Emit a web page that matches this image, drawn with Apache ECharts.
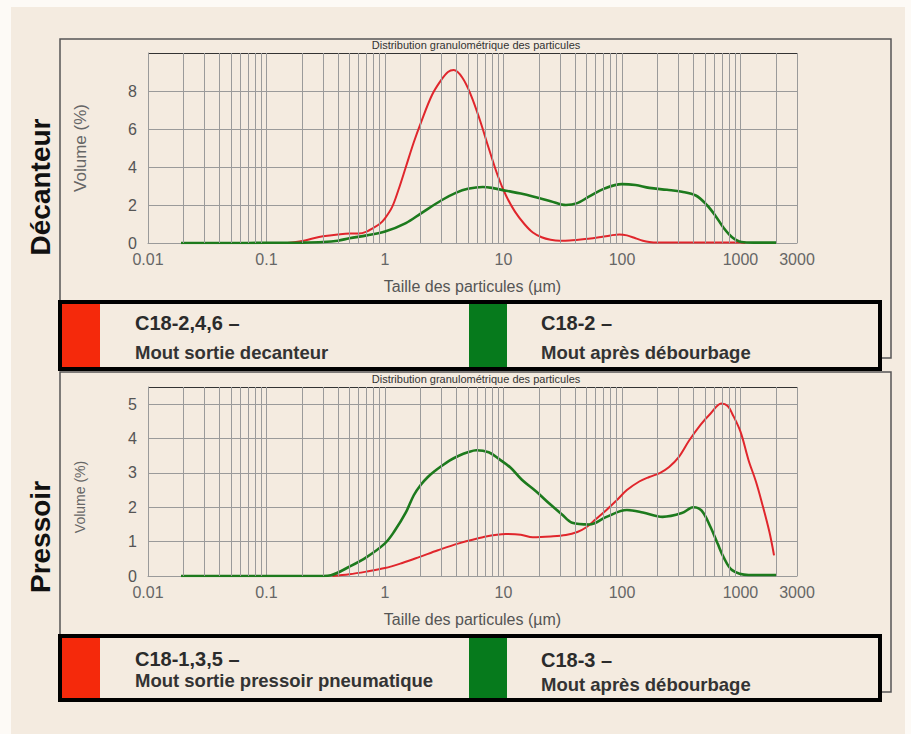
<!DOCTYPE html>
<html><head><meta charset="utf-8">
<script src="https://cdn.jsdelivr.net/npm/echarts@6/dist/echarts.min.js"></script>
<style>html,body{margin:0;padding:0;background:#fdfaf6}#c{width:911px;height:734px}</style>
</head><body><div id="c"></div>
<script>
// ---------- data ----------
const xTickLabels = ['0.01', '0.1', '1', '10', '100', '1000', '3000'];
const minorGridSizes = [0.02,0.03,0.04,0.05,0.06,0.07,0.08,0.09,
  0.2,0.3,0.4,0.5,0.6,0.7,0.8,0.9, 2,3,4,5,6,7,8,9,
  20,30,40,50,60,70,80,90, 200,300,400,500,600,700,800,900, 2000];

// Décanteur – C18-2,4,6 (red)
const decRedSize = [0.15,0.2,0.25,0.3,0.4,0.5,0.6,0.7,0.8,0.9,1.0,1.15,1.3,1.5,1.75,2,2.5,3,3.4,3.8,4.5,5.3,6.3,7.5,9,10.5,12.5,15,17.7,21,25,30,36,43,52,64,80,95,110,130,150,170,200,300,500,700,1000,1100];
const decRedVol  = [0,0.1,0.25,0.35,0.45,0.5,0.5,0.6,0.8,1.0,1.3,1.9,2.8,4.0,5.3,6.3,7.8,8.6,9.0,9.1,8.7,7.8,6.5,5.0,3.5,2.5,1.65,1.0,0.55,0.3,0.17,0.12,0.13,0.17,0.22,0.3,0.4,0.45,0.4,0.25,0.12,0.05,0.02,0.02,0.02,0.02,0.02,0];
// Décanteur – C18-2 (green)
const decGreenSize = [0.019,0.05,0.1,0.2,0.3,0.4,0.5,0.7,1,1.5,2,3,4,5,6.7,8,10.5,14,17.7,25,33.6,42,53,70,100,130,170,240,320,420,520,620,720,850,1020,1300,2000];
const decGreenVol  = [0,0,0.01,0.02,0.05,0.12,0.25,0.4,0.6,1.05,1.55,2.25,2.65,2.85,2.95,2.9,2.75,2.6,2.45,2.2,2.0,2.1,2.45,2.85,3.1,3.05,2.9,2.8,2.7,2.5,2.0,1.4,0.8,0.3,0.05,0.02,0.02];
// Pressoir – C18-1,3,5 (red)
const preRedSize = [0.36,0.5,0.7,1,1.4,1.94,2.8,4.2,6.7,10.5,14,17.7,25,33.6,42,50,60,74,90,110,140,170,210,250,300,370,460,560,690,780,850,1000,1170,1350,1520,1750,1920];
const preRedVol  = [0,0.05,0.13,0.23,0.38,0.55,0.75,0.95,1.13,1.22,1.2,1.13,1.15,1.19,1.28,1.42,1.65,1.92,2.2,2.5,2.75,2.88,3.0,3.17,3.45,3.95,4.4,4.73,5.02,4.95,4.73,4.2,3.37,2.75,2.12,1.3,0.6];
// Pressoir – C18-3 (green)
const preGreenSize = [0.019,0.1,0.3,0.35,0.5,0.7,1,1.2,1.5,1.75,2,2.3,2.6,3,3.5,4.2,5,5.9,7.5,9.2,11.5,14.3,19,24.5,31,38,53,74,110,150,220,320,400,470,560,640,720,850,1170,2000];
const preGreenVol  = [0,0,0,0.02,0.27,0.55,0.95,1.3,1.85,2.35,2.65,2.88,3.04,3.2,3.36,3.5,3.6,3.66,3.6,3.4,3.15,2.8,2.45,2.1,1.8,1.55,1.5,1.72,1.92,1.85,1.72,1.83,2.0,1.9,1.42,0.95,0.55,0.17,0.03,0.03];

const chartTitle = 'Distribution granulométrique des particules';
const xName = 'Taille des particules (µm)';
const yName = 'Volume (%)';
const legendTop = [['C18-2,4,6 –', 'Mout sortie decanteur'], ['C18-2 –', 'Mout après débourbage']];
const legendBottom = [['C18-1,3,5 –', 'Mout sortie pressoir pneumatique'], ['C18-3 –', 'Mout après débourbage']];

// ---------- style ----------
const FONT = "'Liberation Sans', Arial, sans-serif";
const RED = '#e0262c', GREEN = '#1d7a1d';
const RED_BOX = '#f5290b', GREEN_BOX = '#067a1c';
const BEIGE = '#f4ebe0';
const GRIDC = '#9a9a9a';

const zip = (a, b) => a.map((v, i) => [v, b[i]]);
const fmtX = v => { const s = String(Number(Number(v).toPrecision(3))); return xTickLabels.includes(s) ? s : ''; };

function xAxis(gi) {
  return {
    type: 'log', logBase: 10, min: 0.01, max: 3000, gridIndex: gi,
    name: xName, nameLocation: 'middle', nameGap: 35,
    nameTextStyle: { fontFamily: FONT, fontSize: 16, color: '#555' },
    axisLine: { show: true, lineStyle: { color: GRIDC, width: 1 } },
    axisTick: { show: false },
    axisLabel: { formatter: fmtX, fontFamily: FONT, fontSize: 16, color: '#666', margin: 8, showMinLabel: true, showMaxLabel: true, hideOverlap: false },
    splitLine: { show: true, lineStyle: { color: GRIDC, width: 1 } }
  };
}
function yAxis(gi, max, interval, colors, fmt) {
  return {
    type: 'value', gridIndex: gi, min: 0, max: max, interval: interval,
    axisLine: { show: true, lineStyle: { color: GRIDC, width: 1 } },
    axisTick: { show: false },
    axisLabel: { formatter: fmt, fontFamily: FONT, fontSize: 16, color: '#555', margin: 11 },
    splitLine: { show: true, lineStyle: { color: colors, width: 1 } }
  };
}
const minorLines = {
  silent: true, symbol: ['none', 'none'], animation: false,
  label: { show: false },
  lineStyle: { type: 'solid', color: GRIDC, width: 1 },
  data: minorGridSizes.map(v => ({ xAxis: v }))
};
function line(name, data, color, width, xi, withMinor) {
  const s = {
    name, type: 'line', data, xAxisIndex: xi, yAxisIndex: xi,
    smooth: 0.35, showSymbol: false, symbol: 'none', animation: false,
    lineStyle: { color, width }, itemStyle: { color }
  };
  if (withMinor) s.markLine = minorLines;
  return s;
}

function legendGraphics(y0, y1, items, l1y, l2y) {
  const g = [];
  g.push({ type: 'rect', z: 20, shape: { x: 60, y: y0, width: 820, height: y1 - y0 },
    style: { fill: BEIGE, stroke: '#000', lineWidth: 4 } });
  g.push({ type: 'rect', z: 21, shape: { x: 62, y: y0 + 2, width: 38, height: y1 - y0 - 4 }, style: { fill: RED_BOX } });
  g.push({ type: 'rect', z: 21, shape: { x: 469, y: y0 + 2, width: 38, height: y1 - y0 - 4 }, style: { fill: GREEN_BOX } });
  const xs = [135, 541];
  items.forEach((it, i) => {
    g.push({ type: 'text', z: 22, x: xs[i], y: l1y[i], style: { text: it[0], fontFamily: FONT, fontSize: 20, fontWeight: 'bold', fill: '#2b2b2b', align: 'left', verticalAlign: 'middle' } });
    g.push({ type: 'text', z: 22, x: xs[i], y: l2y[i], style: { text: it[1], fontFamily: FONT, fontSize: 18.5, fontWeight: 'bold', fill: '#333', align: 'left', verticalAlign: 'middle' } });
  });
  return g;
}

const graphics = [
  { type: 'rect', z: -20, shape: { x: 11, y: 7, width: 894, height: 727 }, style: { fill: BEIGE } },
  { type: 'rect', z: -10, shape: { x: 60, y: 39, width: 831, height: 319 }, style: { fill: 'none', stroke: '#555', lineWidth: 1.5 } },
  { type: 'rect', z: -10, shape: { x: 60, y: 372, width: 831, height: 320 }, style: { fill: 'none', stroke: '#555', lineWidth: 1.5 } },
  { type: 'text', z: 5, x: 476, y: 45, style: { text: chartTitle, fontFamily: FONT, fontSize: 11, fill: '#333', align: 'center', verticalAlign: 'middle' } },
  { type: 'text', z: 5, x: 476, y: 379, style: { text: chartTitle, fontFamily: FONT, fontSize: 11, fill: '#333', align: 'center', verticalAlign: 'middle' } },
  { type: 'text', z: 5, x: 40, y: 187, rotation: Math.PI / 2, style: { text: 'Décanteur', fontFamily: FONT, fontSize: 28, fontWeight: 'bold', fill: '#111', align: 'center', verticalAlign: 'middle' } },
  { type: 'text', z: 5, x: 40, y: 537, rotation: Math.PI / 2, style: { text: 'Pressoir', fontFamily: FONT, fontSize: 28, fontWeight: 'bold', fill: '#111', align: 'center', verticalAlign: 'middle' } },
  { type: 'text', z: 5, x: 80, y: 148, rotation: Math.PI / 2, style: { text: yName, fontFamily: FONT, fontSize: 17, fill: '#666', align: 'center', verticalAlign: 'middle' } },
  { type: 'text', z: 5, x: 80, y: 497, rotation: Math.PI / 2, style: { text: yName, fontFamily: FONT, fontSize: 14, fill: '#666', align: 'center', verticalAlign: 'middle' } }
].concat(legendGraphics(302, 369, legendTop, [323, 323], [352, 352]))
 .concat(legendGraphics(636, 700, legendBottom, [659, 660], [680, 684]));

const chart = echarts.init(document.getElementById('c'), null, { renderer: 'svg' });
chart.setOption({
  backgroundColor: '#fdfaf6',
  animation: false,
  grid: [
    { left: 148, top: 53, width: 649, height: 190, containLabel: false },
    { left: 148, top: 387, width: 649, height: 189, containLabel: false }
  ],
  xAxis: [xAxis(0), xAxis(1)],
  yAxis: [
    yAxis(0, 10, 2, [GRIDC, GRIDC, GRIDC, GRIDC, GRIDC, '#333'], v => (v <= 8 ? String(v) : '')),
    yAxis(1, 5.5, 1, [GRIDC, GRIDC, GRIDC, GRIDC, GRIDC, GRIDC, '#333'], v => (Number.isInteger(v) ? String(v) : ''))
  ],
  series: [
    line('C18-2,4,6', zip(decRedSize, decRedVol), RED, 2, 0, true),
    line('C18-2', zip(decGreenSize, decGreenVol), GREEN, 2.6, 0, false),
    line('C18-1,3,5', zip(preRedSize, preRedVol), RED, 2, 1, true),
    line('C18-3', zip(preGreenSize, preGreenVol), GREEN, 2.6, 1, false)
  ],
  graphic: graphics
});
</script></body></html>
